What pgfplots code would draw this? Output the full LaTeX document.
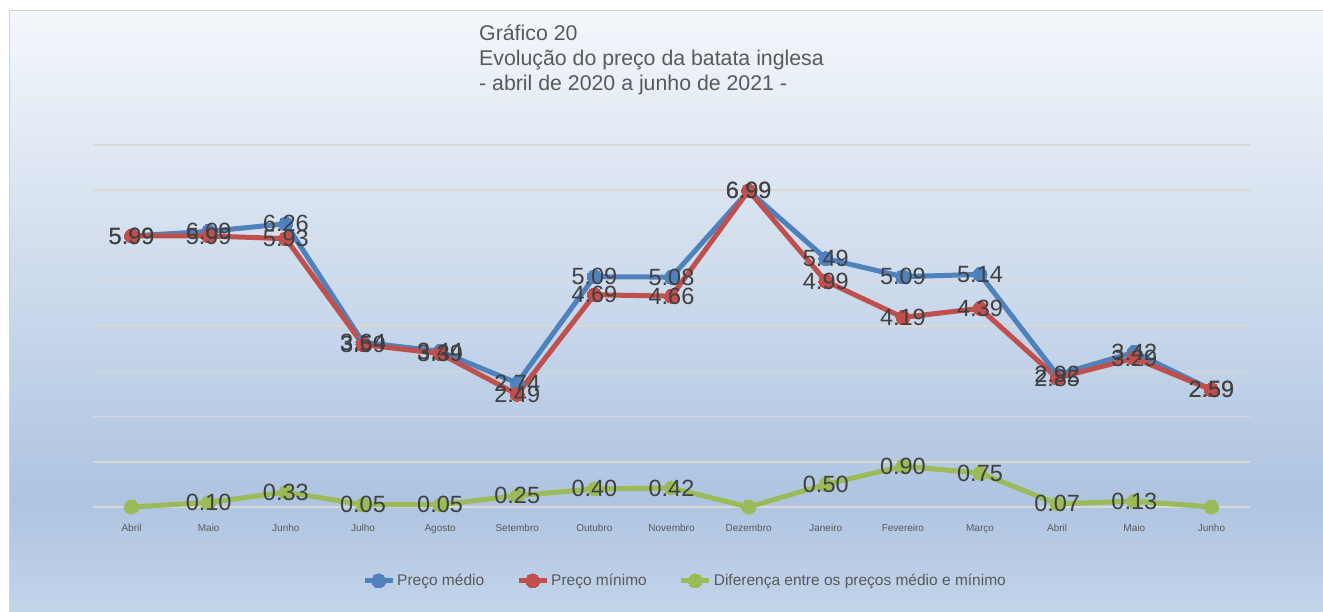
\documentclass[border=0pt]{standalone}
\usepackage{fontspec}
\setmainfont{Liberation Sans}
\usepackage{pgfplots}
\pgfplotsset{compat=1.18}
\definecolor{cblue}{HTML}{4F81BD}
\definecolor{cred}{HTML}{C0504D}
\definecolor{cgreen}{HTML}{9BBB59}
\definecolor{bgtop}{HTML}{F4F7FB}
\definecolor{bgmid}{HTML}{AEC4E1}
\definecolor{bgbot}{HTML}{C3D4EA}
\definecolor{txt}{HTML}{404040}
\definecolor{ttl}{HTML}{595959}
\definecolor{gridc}{HTML}{DAD8D5}
\pgfplotstableread{
x med min dif
0 5.99 5.99 0
1 6.09 5.99 0.10
2 6.26 5.93 0.33
3 3.64 3.59 0.05
4 3.44 3.39 0.05
5 2.74 2.49 0.25
6 5.09 4.69 0.40
7 5.08 4.66 0.42
8 6.99 6.99 0
9 5.49 4.99 0.50
10 5.09 4.19 0.90
11 5.14 4.39 0.75
12 2.92 2.85 0.07
13 3.42 3.29 0.13
14 2.59 2.59 0
}\datatab
\begin{document}
\begin{tikzpicture}[x=1pt,y=1pt]
\useasboundingbox (0,0) rectangle (1323,611);
\fill[white] (0,0) rectangle (1323,611);
\fill[bottom color=bgmid, top color=bgtop] (10,111) rectangle (1323,600.5);
\fill[top color=bgmid, bottom color=bgbot] (10,0) rectangle (1323,111.5);
\draw[color=gray!35, line width=1.5pt] (9.5,-5) -- (9.5,600.5) -- (1330,600.5);
\node[anchor=north west, align=left, text=ttl, font=\fontsize{21.3}{25}\selectfont, inner sep=0pt] at (479,586) {Gráfico 20\\Evolução do preço da batata inglesa\\- abril de 2020 a junho de 2021 -};
\begin{axis}[at={(93pt,104pt)}, anchor=south west, scale only axis,
  width=1157pt, height=362pt,
  xmin=-0.5, xmax=14.5, ymin=0, ymax=8,
  /pgf/number format/assume math mode=true,
  axis line style={draw=none}, major tick length=0pt,
  ytick={0,...,8}, yticklabels={,,},
  ymajorgrids, grid style={gridc, line width=1.5pt},
  xtick={0,...,14},
  xticklabels={Abril,Maio,Junho,Julho,Agosto,Setembro,Outubro,Novembro,Dezembro,Janeiro,Fevereiro,Março,Abril,Maio,Junho},
  xticklabel style={font=\fontsize{10}{12}\selectfont, text=ttl, yshift=-14pt},
  clip=false,
  lineplot/.style={line width=5pt, line join=round, mark=*, mark size=7pt, mark options={solid, line width=0pt}},
  labelplot/.style={draw=none, mark=none, forget plot},
  every node near coord/.append style={anchor=center, font=\fontsize{23.5}{27}\selectfont, text=txt},
  legend style={draw=none, fill=none, at={(0.5117,-0.204)}, anchor=center, font=\fontsize{15.5}{19}\selectfont, text=ttl, /tikz/every even column/.append style={column sep=30pt}},
  legend columns=3,
  legend image code/.code={\draw[mark repeat=2,mark phase=2,#1] plot coordinates {(0pt,0pt) (14pt,0pt) (28pt,0pt)};},
]
\addplot[cblue, lineplot] table[x=x, y=med] {\datatab};
\addlegendentry{Preço médio}
\addplot[cred, lineplot] table[x=x, y=min] {\datatab};
\addlegendentry{Preço mínimo}
\addplot[cgreen, lineplot] table[x=x, y=dif] {\datatab};
\addlegendentry{Diferença entre os preços médio e mínimo}
\addplot[labelplot, nodes near coords={\pgfmathprintnumber[fixed,fixed zerofill,precision=2]{\pgfplotspointmeta}}] table[x=x, y=med] {\datatab};
\addplot[labelplot, nodes near coords={\pgfmathprintnumber[fixed,fixed zerofill,precision=2]{\pgfplotspointmeta}}] table[x=x, y=min] {\datatab};
\addplot[labelplot, nodes near coords={\pgfmathfloatifflags{\pgfplotspointmeta}{0}{}{\pgfmathprintnumber[fixed,fixed zerofill,precision=2]{\pgfplotspointmeta}}}] table[x=x, y=dif] {\datatab};
\end{axis}
\end{tikzpicture}
\end{document}
